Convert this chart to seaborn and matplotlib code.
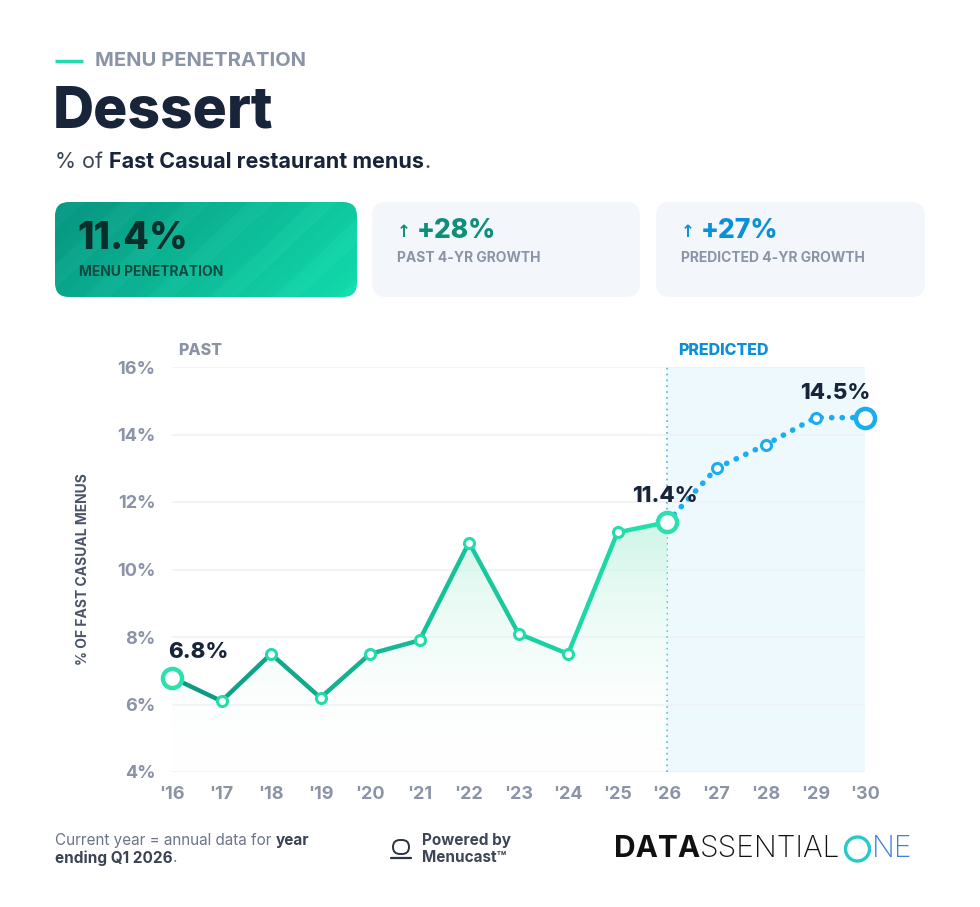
import numpy as np
import matplotlib.pyplot as plt
import seaborn as sns
from matplotlib.collections import LineCollection
from matplotlib.patches import FancyBboxPatch, Polygon
from matplotlib.colors import LinearSegmentedColormap, to_rgb

# data
past_years = [2016, 2017, 2018, 2019, 2020, 2021, 2022, 2023, 2024, 2025, 2026]
past_vals = [6.8, 6.1, 7.5, 6.2, 7.5, 7.9, 10.8, 8.1, 7.5, 11.1, 11.4]
pred_years = [2026, 2027, 2028, 2029, 2030]
pred_vals = [11.4, 13.0, 13.7, 14.5, 14.5]
x_labels = ["'16", "'17", "'18", "'19", "'20", "'21", "'22", "'23", "'24",
            "'25", "'26", "'27", "'28", "'29", "'30"]
y_ticks = [4, 6, 8, 10, 12, 14, 16]

cards = [
    ("11.4%", "MENU PENETRATION"),
    ("+28%", "PAST 4-YR GROWTH"),
    ("+27%", "PREDICTED 4-YR GROWTH"),
]

NAVY = "#18243a"
GRAY = "#8a94a6"
TEAL_D = "#0e9a82"
TEAL_B = "#22dcac"
BLUE = "#1aaef0"
BLUE_D = "#0b8fd8"

sns.set_theme(style="white")
FONT = ["Inter", "DejaVu Sans"]
plt.rcParams["font.family"] = FONT

fig = plt.figure(figsize=(9.8, 9.07), dpi=100)
fig.patch.set_facecolor("white")

# overlay in pixel coordinates for header, cards, footer
ov = fig.add_axes([0, 0, 1, 1], zorder=0)
ov.set_xlim(0, 980)
ov.set_ylim(907, 0)
ov.axis("off")
renderer = fig.canvas.get_renderer()


def rich(x, y, parts, **common):
    for txt, kw in parts:
        t = ov.text(x, y, txt, **common, **kw)
        x += t.get_window_extent(renderer).width
    return x


# header
ov.plot([55, 83], [61, 61], color="#22dcb0", lw=2.5, solid_capstyle="butt")
ov.text(95, 61, "MENU PENETRATION", color=GRAY, fontsize=14.5,
        fontweight="bold", va="center", ha="left")
ov.text(53, 112, "Dessert", color=NAVY, fontsize=41, fontweight="heavy",
        va="center", ha="left")
rich(55, 162, [("% of ", dict(color="#3a4353", fontweight="normal")),
               ("Fast Casual restaurant menus", dict(color=NAVY, fontweight="bold")),
               (".", dict(color="#3a4353", fontweight="normal"))],
     fontsize=15.5, va="center", ha="left")

# cards
card_boxes = [(55, 202, 302, 95), (372, 202, 268, 95), (656, 202, 269, 95)]
for i, ((x0, y0, w, h), (val, lab)) in enumerate(zip(card_boxes, cards)):
    box = FancyBboxPatch((x0, y0), w, h, boxstyle="round,pad=0,rounding_size=14",
                         linewidth=0, facecolor="#f3f6fb" if i else "none",
                         transform=ov.transData, zorder=1)
    ov.add_patch(box)
    if i == 0:
        gx = np.linspace(0, 1, 300)
        gy = np.linspace(0, 1, 100)
        GX, GY = np.meshgrid(gx, gy)
        g = 0.75 * GX + 0.25 * GY
        stripes = 0.018 * (np.sin((GX * 3 + GY) * 10) > 0.3)
        cmap = LinearSegmentedColormap.from_list("c", ["#079480", "#12dcac"])
        img = cmap(np.clip(g, 0, 1))
        img[..., :3] = np.clip(img[..., :3] + stripes[..., None], 0, 1)
        im = ov.imshow(img, extent=(x0, x0 + w, y0 + h, y0), aspect="auto",
                       zorder=1, interpolation="bilinear")
        im.set_clip_path(box)
        ov.text(77, 239, val, color="#0a2e29", fontsize=27, fontweight="heavy",
                va="center", ha="left", zorder=3)
        ov.text(79, 272, lab, color="#0d4a40", fontsize=10, fontweight="bold",
                va="center", ha="left", zorder=3)
    else:
        c = "#0f8f7a" if i == 1 else BLUE_D
        ov.text(x0 + 25, 232, "↑", color=c, fontsize=12, fontweight="bold",
                va="center", ha="left", zorder=3, family=["DejaVu Sans"])
        ov.text(x0 + 45, 231, val, color=c, fontsize=19, fontweight="heavy",
                va="center", ha="left", zorder=3)
        ov.text(x0 + 25, 258, lab, color=GRAY, fontsize=10, fontweight="bold",
                va="center", ha="left", zorder=3)

# footer
rich(55, 840, [("Current year = annual data for ", dict(color="#6b7588")),
               ("year", dict(color="#3a4353", fontweight="bold"))],
     fontsize=11, va="center", ha="left")
rich(55, 858, [("ending Q1 2026", dict(color="#3a4353", fontweight="bold")),
               (".", dict(color="#6b7588"))],
     fontsize=11, va="center", ha="left")
ov.text(422, 840, "Powered by", color="#3d4656", fontsize=11,
        fontweight="bold", va="center", ha="left")
ov.text(422, 858, "Menucast™", color="#3d4656", fontsize=11,
        fontweight="bold", va="center", ha="left")
# small cloche icon
ov.add_patch(FancyBboxPatch((393, 840), 16, 14, boxstyle="round,pad=0,rounding_size=7",
                            fill=False, ec="#2b3340", lw=1.4))
ov.plot([391, 411], [858, 858], color="#2b3340", lw=1.6)
xe = rich(614, 849, [("DATA", dict(color="#111111", fontweight="bold")),
                     ("SSENTIAL", dict(color="#111111", fontweight="light"))],
          fontsize=21.5, va="center", ha="left")
ov.add_patch(plt.Circle((xe + 17, 849), 12, fill=False, ec="#27c9c9", lw=2.4))
rich(xe + 31, 849, [("NE", dict(color="#3a7ee6", fontweight="light"))],
     fontsize=21.5, va="center", ha="left")

# chart
ax = fig.add_axes([172 / 980, 1 - 772 / 907, 693 / 980, 405 / 907], zorder=2)
ax.set_facecolor("none")
ax.set_xlim(2016, 2030)
ax.set_ylim(4, 16)
ax.axvspan(2026, 2030, color="#eef9fd", zorder=0, lw=0)
for yv in y_ticks:
    ax.axhline(yv, color="#eef1f6", lw=1.2, zorder=0.5)
ax.axvline(2026, color="#3bbfe0", lw=1.2, ls=(0, (1, 2.5)), zorder=1)

# gradient fill under past line
fill_cmap = LinearSegmentedColormap.from_list(
    "f", [(1, 1, 1, 0), to_rgb("#c7f4e4") + (0.85,)])
grad = np.linspace(0, 1, 256)[:, None]
fim = ax.imshow(grad, extent=(2016, 2026, 4, 11.4), origin="lower",
                cmap=fill_cmap, aspect="auto", zorder=1)
poly = Polygon(list(zip(past_years, past_vals)) + [(2026, 4), (2016, 4)],
               closed=True, transform=ax.transData, fill=False, lw=0)
ax.add_patch(poly)
fim.set_clip_path(poly)
ax.set_xlim(2016, 2030)
ax.set_ylim(4, 16)

# gradient past line
pts = np.column_stack([past_years, past_vals])
segs = np.stack([pts[:-1], pts[1:]], axis=1)
line_cmap = LinearSegmentedColormap.from_list("l", [TEAL_D, "#1fe0aa"])
lc = LineCollection(segs, colors=line_cmap(np.linspace(0, 1, len(segs))),
                    linewidths=3.2, capstyle="round", joinstyle="round", zorder=3)
ax.add_collection(lc)

# predicted dotted line
sns.lineplot(x=pred_years, y=pred_vals, ax=ax, color=BLUE, linewidth=4.0,
             linestyle=(0, (0.05, 1.85)), dash_capstyle="round", zorder=3)

# markers
sns.scatterplot(x=past_years[1:-1], y=past_vals[1:-1], ax=ax, s=52,
                facecolor="white", edgecolor=TEAL_B, linewidth=2.2,
                zorder=4, clip_on=False)
sns.scatterplot(x=[past_years[0], past_years[-1]], y=[past_vals[0], past_vals[-1]],
                ax=ax, s=190, facecolor="white", edgecolor="#2ee0b0",
                linewidth=3.2, zorder=5, clip_on=False)
sns.scatterplot(x=pred_years[1:-1], y=pred_vals[1:-1], ax=ax, s=52,
                facecolor="white", edgecolor=BLUE, linewidth=2.2,
                zorder=4, clip_on=False)
sns.scatterplot(x=[pred_years[-1]], y=[pred_vals[-1]], ax=ax, s=190,
                facecolor="white", edgecolor=BLUE, linewidth=3.2,
                zorder=5, clip_on=False)

# value labels
ax.text(2015.92, 7.56, f"{past_vals[0]}%", color=NAVY, fontsize=16,
        fontweight="heavy", ha="left", va="center", zorder=6)
ax.text(2025.95, 12.17, f"{past_vals[-1]}%", color=NAVY, fontsize=16,
        fontweight="heavy", ha="center", va="center", zorder=6)
ax.text(2029.39, 15.23, f"{pred_vals[-1]}%", color=NAVY, fontsize=16,
        fontweight="heavy", ha="center", va="center", zorder=6)

# section labels
ax.text(2016.12, 16.5, "PAST", color=GRAY, fontsize=11.5, fontweight="heavy",
        ha="left", va="center", clip_on=False)
ax.text(2026.22, 16.5, "PREDICTED", color=BLUE_D, fontsize=11.5,
        fontweight="heavy", ha="left", va="center", clip_on=False)

# axes styling
ax.set_xticks(list(range(2016, 2031)))
ax.set_xticklabels(x_labels)
ax.set_yticks(y_ticks)
ax.set_yticklabels([f"{v}%" for v in y_ticks])
ax.tick_params(axis="both", length=0, labelsize=13, labelcolor=GRAY)
ax.tick_params(axis="y", pad=12)
ax.tick_params(axis="x", pad=10)
for lab in ax.get_xticklabels() + ax.get_yticklabels():
    lab.set_fontweight("bold")
for s in ax.spines.values():
    s.set_visible(False)
ax.grid(False)
ax.set_xlabel("")
ax.set_ylabel("% OF FAST CASUAL MENUS", color="#4a5568", fontsize=10,
              fontweight="bold")
ax.yaxis.set_label_coords(-0.118, 0.5)

fig.savefig("out.png", dpi=100, facecolor="white")
